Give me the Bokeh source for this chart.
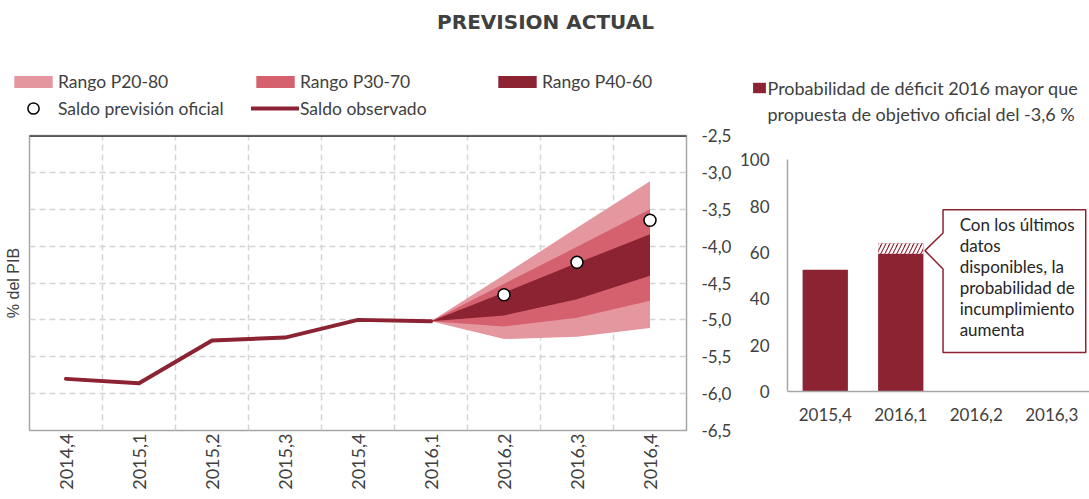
import math
from bokeh.plotting import figure
from bokeh.models import (FactorRange, Range1d, LinearAxis, FixedTicker, CustomJSTickFormatter,
                          Legend, LegendItem, Label, Span, PolyAnnotation)
from bokeh.layouts import row, column
from bokeh.embed import file_html
from bokeh.resources import INLINE

nan = float("nan")

# ---------------- data ----------------
quarters = ["2014,4", "2015,1", "2015,2", "2015,3", "2015,4",
            "2016,1", "2016,2", "2016,3", "2016,4"]
saldo_observado = [-5.80, -5.86, -5.28, -5.24, -5.00, -5.02, nan, nan, nan]
saldo_prevision_oficial = [nan, nan, nan, nan, nan, nan, -4.66, -4.22, -3.65]

fan_quarters = ["2016,1", "2016,2", "2016,3", "2016,4"]
p20 = [-5.02, -5.26, -5.23, -5.11]
p30 = [-5.02, -5.09, -4.97, -4.74]
p40 = [-5.02, -4.94, -4.72, -4.40]
p60 = [-5.02, -4.63, -4.23, -3.84]
p70 = [-5.02, -4.51, -4.01, -3.50]
p80 = [-5.02, -4.39, -3.75, -3.12]
y_ticks = [-6.5, -6.0, -5.5, -5.0, -4.5, -4.0, -3.5, -3.0, -2.5]

prob_quarters = ["2015,4", "2016,1", "2016,2", "2016,3"]
prob_anterior = [52.5, 59.5, nan, nan]
prob_ultimos_datos = [nan, 64.0, nan, nan]
prob_ticks = [0, 20, 40, 60, 80, 100]

# ---------------- styles ----------------
DARK = "#8B2332"
MID = "#D6616E"
LIGHT = "#E4979F"
TXT = "#404040"
FONT = "Lato"
GRID = "#D4D4D4"
BORDER = "#A6A6A6"

W = 1089
HT = 125                 # header strip (title + legends)
H = 499 - HT             # chart row
TOP, BOTTOM = 10, 69     # shared borders so the two frames line up

# ---------------- left chart ----------------
p = figure(width=736, height=H, x_range=FactorRange(factors=quarters),
           y_range=Range1d(-6.5, -2.5), y_axis_location="right",
           output_backend="svg", toolbar_location=None,
           min_border_left=29, min_border_right=50, min_border_top=TOP, min_border_bottom=BOTTOM)
p.outline_line_color = BORDER
p.outline_line_width = 1.5

yr = p.yaxis[0]
yr.ticker = FixedTicker(ticks=y_ticks)
yr.formatter = CustomJSTickFormatter(code="return tick.toFixed(1).replace('.', ',')")
yr.axis_line_color = None
yr.major_tick_line_color = None
yr.minor_tick_line_color = None
yr.major_tick_out = 0
yr.major_label_standoff = 15
yr.major_label_text_font = FONT
yr.major_label_text_font_size = "17px"
yr.major_label_text_color = TXT

yl = LinearAxis(ticker=FixedTicker(ticks=[]), axis_label="% del PIB",
                axis_line_color=None, major_tick_line_color=None, minor_tick_line_color=None,
                major_tick_out=0, major_label_standoff=0, axis_label_standoff=8,
                axis_label_text_font="Liberation Sans", axis_label_text_font_size="16px",
                axis_label_text_font_style="normal", axis_label_text_color=TXT)
p.add_layout(yl, "left")

xa = p.xaxis[0]
xa.major_label_orientation = math.pi / 2
xa.axis_line_color = None
xa.major_tick_line_color = None
xa.major_tick_out = 0
xa.major_label_standoff = 3
xa.major_label_text_font = FONT
xa.major_label_text_font_size = "18px"
xa.major_label_text_color = TXT

p.xgrid.ticker = FixedTicker(ticks=list(range(1, len(quarters))))
p.ygrid.ticker = FixedTicker(ticks=y_ticks[1:-1])
for g in (p.xgrid, p.ygrid):
    g.grid_line_color = GRID
    g.grid_line_dash = "6 4"
    g.grid_line_width = 1.5

band_styles = [dict(fill_color=LIGHT), dict(fill_color=MID), dict(fill_color=DARK)]
p.varea(x=fan_quarters, y1=p20, y2=p80, **band_styles[0])
p.varea(x=fan_quarters, y1=p30, y2=p70, **band_styles[1])
p.varea(x=fan_quarters, y1=p40, y2=p60, **band_styles[2])
obs_style = dict(line_color=DARK, line_width=4, line_join="round", line_cap="round")
off_style = dict(marker="circle", fill_color="white", line_color="black", line_width=1.5)
p.line(x=quarters, y=saldo_observado, **obs_style)
p.scatter(x=quarters, y=saldo_prevision_oficial, size=12, **off_style)

p.add_layout(Span(location=-2.5, dimension="width", line_color="#262626", line_width=2.5))

# ---------------- right chart ----------------
q = figure(width=353, height=H, x_range=FactorRange(factors=prob_quarters),
           y_range=Range1d(-16.83, 110.49), output_backend="svg", toolbar_location=None,
           min_border_left=48, min_border_right=0, min_border_top=TOP, min_border_bottom=BOTTOM)
q.outline_line_color = None
q.xgrid.visible = False
q.ygrid.visible = False

qy = q.yaxis[0]
qy.ticker = FixedTicker(ticks=prob_ticks)
qy.bounds = (0, 100)
qy.axis_line_color = BORDER
qy.axis_line_width = 1.5
qy.major_tick_line_color = None
qy.minor_tick_line_color = None
qy.major_tick_out = 0
qy.major_label_standoff = 18
qy.major_label_text_font = FONT
qy.major_label_text_font_size = "17px"
qy.major_label_text_color = TXT

qx = q.xaxis[0]
qx.fixed_location = 0
qx.axis_line_color = BORDER
qx.axis_line_width = 1.5
qx.major_tick_line_color = None
qx.major_tick_out = 0
qx.major_label_standoff = 16
qx.major_label_text_font = FONT
qx.major_label_text_font_size = "17px"
qx.major_label_text_color = TXT

bar_style = dict(fill_color=DARK, line_color=None)
q.vbar(x=prob_quarters, top=prob_anterior, width=0.6, **bar_style)
q.vbar(x=prob_quarters, bottom=prob_anterior, top=prob_ultimos_datos, width=0.6,
       hatch_pattern="/", hatch_color="white", hatch_weight=2.5, hatch_scale=8, **bar_style)

q.add_layout(PolyAnnotation(xs=[2.06, 3.95, 3.95, 2.06, 2.06, 1.82, 2.06],
                            ys=[78.4, 78.4, 16.8, 16.8, 52.9, 60.8, 68.4],
                            fill_color="white", fill_alpha=1.0,
                            line_color=DARK, line_alpha=1.0, line_width=1.5))
q.add_layout(Label(x=2.28, y=76.5,
                   text="Con los últimos\ndatos\ndisponibles, la\nprobabilidad de\nincumplimiento\naumenta",
                   text_align="left", text_baseline="top", text_font=FONT, text_font_size="17px",
                   text_line_height=1.0, text_color="#262626"))

# ---------------- header strip: title and legends ----------------
t = figure(width=W, height=HT, x_range=Range1d(0, W), y_range=Range1d(HT, 0),
           x_axis_type=None, y_axis_type=None, output_backend="svg", toolbar_location=None,
           min_border_left=0, min_border_right=0, min_border_top=0, min_border_bottom=0)
t.outline_line_color = None
t.grid.visible = False

# legend keys: same styles as the chart glyphs, no visible data (NaN)
k20 = t.varea(x=[nan, nan], y1=[nan, nan], y2=[nan, nan], **band_styles[0])
k30 = t.varea(x=[nan, nan], y1=[nan, nan], y2=[nan, nan], **band_styles[1])
k40 = t.varea(x=[nan, nan], y1=[nan, nan], y2=[nan, nan], **band_styles[2])
koff = t.scatter(x=[nan], y=[nan], **off_style)
kobs = t.line(x=[nan, nan], y=[nan, nan], **obs_style)
kbar = t.vbar(x=[nan], top=[nan], width=1, **bar_style)

leg_common = dict(orientation="horizontal", glyph_width=48, label_standoff=1,
                  label_width=193, spacing=0, padding=0, margin=0,
                  border_line_color=None, background_fill_alpha=0,
                  label_text_font=FONT, label_text_font_size="17.5px", label_text_color=TXT)
leg1 = Legend(items=[LegendItem(label="Rango P20-80", renderers=[k20]),
                     LegendItem(label="Rango P30-70", renderers=[k30]),
                     LegendItem(label="Rango P40-60", renderers=[k40])],
              location=(9, HT - 91.5), glyph_height=15, **leg_common)
leg2 = Legend(items=[LegendItem(label="Saldo previsión oficial", renderers=[koff]),
                     LegendItem(label="Saldo observado", renderers=[kobs])],
              location=(9, HT - 122.3), glyph_height=28, **leg_common)
leg3 = Legend(items=[LegendItem(label="Probabilidad de déficit 2016 mayor que", renderers=[kbar])],
              location=(750.5, HT - 98.5), glyph_width=16, glyph_height=13, label_standoff=1,
              padding=0, margin=0, spacing=0, border_line_color=None, background_fill_alpha=0,
              label_text_font=FONT, label_text_font_size="18px", label_text_color=TXT)
for lg in (leg1, leg2, leg3):
    t.add_layout(lg)

t.add_layout(Label(x=767, y=113, text="propuesta de objetivo oficial del -3,6 %",
                   text_align="left", text_baseline="middle", text_font=FONT,
                   text_font_size="18px", text_color=TXT))
t.add_layout(Label(x=545, y=21, text="PREVISION ACTUAL", text_align="center",
                   text_baseline="middle", text_font="DejaVu Sans", text_font_size="20px",
                   text_font_style="bold", text_color=TXT))

layout = column(t, row(p, q))
open("out.html", "w").write(file_html(layout, INLINE))
